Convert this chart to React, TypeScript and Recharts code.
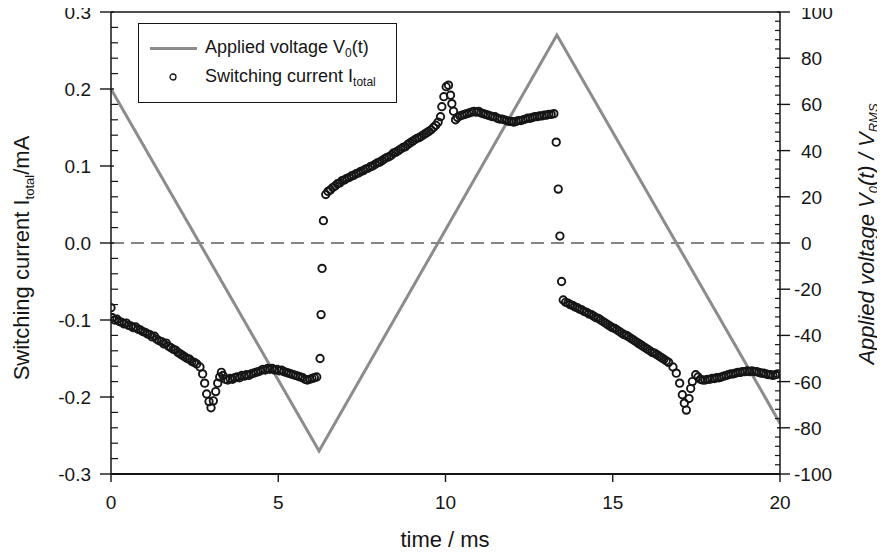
import React from "react";
import { ComposedChart, Line, Scatter, XAxis, YAxis, ReferenceLine } from "recharts";

const FONT = "'Liberation Sans', Arial, Helvetica, sans-serif";

// ---- tick labels ----
const timeTicks = [0, 5, 10, 15, 20];
const currentLabels = [-0.3, -0.2, -0.1, 0, 0.1, 0.2, 0.3];
const voltageLabels = [-100, -80, -60, -40, -20, 0, 20, 40, 60, 80, 100];

// ---- applied voltage (triangle), time in ms, value in V_RMS ----
const voltageTime = [0, 6.22, 13.33, 20];
const voltageValue = [66.7, -90, 90, -78];

// ---- switching current, [time ms, current mA] ----
const currentStart: [number, number][] = [[0.0, -0.084]];
const currentFallA: [number, number][] = [
  [0.04, -0.097], [0.11, -0.1], [0.18, -0.099], [0.25, -0.102], [0.32, -0.103], [0.39, -0.105], [0.46, -0.104],
  [0.53, -0.107], [0.6, -0.108], [0.67, -0.11], [0.74, -0.109], [0.81, -0.112], [0.88, -0.113], [0.95, -0.115],
  [1.02, -0.116], [1.09, -0.118], [1.16, -0.119], [1.23, -0.122], [1.3, -0.121], [1.37, -0.125], [1.44, -0.127],
  [1.51, -0.128], [1.58, -0.131], [1.65, -0.13], [1.72, -0.134], [1.79, -0.136], [1.86, -0.138], [1.93, -0.139],
  [2.0, -0.142], [2.07, -0.144], [2.14, -0.146], [2.21, -0.148], [2.28, -0.15], [2.35, -0.151], [2.42, -0.154],
  [2.49, -0.155], [2.56, -0.157],
];
const currentDipA: [number, number][] = [
  [2.66, -0.161], [2.74, -0.17], [2.8, -0.182], [2.86, -0.196], [2.93, -0.206], [2.99, -0.214],
  [3.06, -0.205], [3.13, -0.193], [3.19, -0.182], [3.25, -0.174], [3.3, -0.168],
];
const currentFlatA: [number, number][] = [
  [3.35, -0.172], [3.42, -0.177], [3.49, -0.178], [3.56, -0.176], [3.63, -0.177], [3.7, -0.175], [3.77, -0.174],
  [3.84, -0.175], [3.91, -0.172], [3.98, -0.173], [4.05, -0.171], [4.12, -0.172], [4.19, -0.17], [4.26, -0.169],
  [4.33, -0.168], [4.4, -0.167], [4.47, -0.166], [4.54, -0.164], [4.61, -0.165], [4.68, -0.163], [4.75, -0.164],
  [4.82, -0.163], [4.89, -0.165], [4.96, -0.164], [5.03, -0.166], [5.1, -0.165], [5.17, -0.167], [5.24, -0.168],
  [5.31, -0.169], [5.38, -0.17], [5.45, -0.171], [5.52, -0.172], [5.59, -0.173], [5.66, -0.174], [5.73, -0.175],
  [5.8, -0.177], [5.87, -0.178], [5.94, -0.177], [6.01, -0.176], [6.08, -0.175], [6.15, -0.174],
];
const currentRiseB: [number, number][] = [[6.25, -0.15], [6.28, -0.093], [6.31, -0.033], [6.35, 0.029]];
const currentRampB: [number, number][] = [
  [6.42, 0.063], [6.49, 0.067], [6.56, 0.069], [6.63, 0.072], [6.7, 0.074], [6.77, 0.077], [6.84, 0.078],
  [6.91, 0.081], [6.98, 0.082], [7.05, 0.084], [7.12, 0.085], [7.19, 0.087], [7.26, 0.088], [7.33, 0.09],
  [7.4, 0.091], [7.47, 0.093], [7.54, 0.094], [7.61, 0.096], [7.68, 0.097], [7.75, 0.099], [7.82, 0.1],
  [7.89, 0.102], [7.96, 0.104], [8.03, 0.105], [8.1, 0.107], [8.17, 0.109], [8.24, 0.111], [8.31, 0.112],
  [8.38, 0.114], [8.45, 0.117], [8.52, 0.118], [8.59, 0.12], [8.66, 0.122], [8.73, 0.124], [8.8, 0.125],
  [8.87, 0.128], [8.94, 0.13], [9.01, 0.132], [9.08, 0.134], [9.15, 0.136], [9.22, 0.137], [9.29, 0.139],
  [9.36, 0.141], [9.43, 0.143], [9.5, 0.145], [9.57, 0.147], [9.64, 0.15], [9.71, 0.153],
];
const currentPeakB: [number, number][] = [
  [9.78, 0.157], [9.85, 0.164], [9.89, 0.177], [9.95, 0.19], [10.02, 0.203],
  [10.09, 0.205], [10.15, 0.192], [10.19, 0.181], [10.24, 0.171], [10.3, 0.16],
];
const currentFlatB: [number, number][] = [
  [10.36, 0.163], [10.43, 0.165], [10.5, 0.166], [10.57, 0.167], [10.64, 0.168], [10.71, 0.169], [10.78, 0.17],
  [10.85, 0.171], [10.92, 0.17], [10.99, 0.171], [11.06, 0.169], [11.13, 0.168], [11.2, 0.167], [11.27, 0.166],
  [11.34, 0.165], [11.41, 0.164], [11.48, 0.164], [11.55, 0.162], [11.62, 0.161], [11.69, 0.161], [11.76, 0.16],
  [11.83, 0.159], [11.9, 0.158], [11.97, 0.158], [12.04, 0.157], [12.11, 0.158], [12.18, 0.159], [12.25, 0.159],
  [12.32, 0.16], [12.39, 0.161], [12.46, 0.162], [12.53, 0.162], [12.6, 0.163], [12.67, 0.164], [12.74, 0.164],
  [12.81, 0.165], [12.88, 0.165], [12.95, 0.166], [13.02, 0.166], [13.09, 0.167], [13.16, 0.167], [13.24, 0.168],
];
const currentDropC: [number, number][] = [[13.31, 0.131], [13.37, 0.07], [13.42, 0.009], [13.47, -0.05]];
const currentFallC: [number, number][] = [
  [13.52, -0.074], [13.59, -0.077], [13.66, -0.078], [13.73, -0.08], [13.8, -0.081], [13.87, -0.083],
  [13.94, -0.084], [14.01, -0.086], [14.08, -0.087], [14.15, -0.089], [14.22, -0.09], [14.29, -0.092],
  [14.36, -0.093], [14.43, -0.095], [14.5, -0.097], [14.57, -0.098], [14.64, -0.1], [14.71, -0.102],
  [14.78, -0.104], [14.85, -0.106], [14.92, -0.108], [14.99, -0.11], [15.06, -0.111], [15.13, -0.113],
  [15.2, -0.115], [15.27, -0.117], [15.34, -0.119], [15.41, -0.12], [15.48, -0.122], [15.55, -0.124],
  [15.62, -0.126], [15.69, -0.128], [15.76, -0.13], [15.83, -0.132], [15.9, -0.134], [15.97, -0.136],
  [16.04, -0.138], [16.11, -0.14], [16.18, -0.142], [16.25, -0.143], [16.32, -0.145], [16.39, -0.147],
  [16.46, -0.149], [16.53, -0.151], [16.6, -0.153], [16.67, -0.155],
];
const currentDipC: [number, number][] = [
  [16.8, -0.161], [16.9, -0.169], [17.0, -0.182], [17.08, -0.197], [17.14, -0.208],
  [17.2, -0.217], [17.28, -0.202], [17.33, -0.189], [17.38, -0.18], [17.48, -0.171],
];
const currentFlatC: [number, number][] = [
  [17.55, -0.174], [17.62, -0.177], [17.69, -0.178], [17.76, -0.178], [17.83, -0.177], [17.9, -0.177],
  [17.97, -0.176], [18.04, -0.176], [18.11, -0.175], [18.18, -0.175], [18.25, -0.174], [18.32, -0.173],
  [18.39, -0.172], [18.46, -0.171], [18.53, -0.17], [18.6, -0.17], [18.67, -0.169], [18.74, -0.168],
  [18.81, -0.168], [18.88, -0.167], [18.95, -0.167], [19.02, -0.166], [19.09, -0.167], [19.16, -0.166],
  [19.23, -0.167], [19.3, -0.167], [19.37, -0.168], [19.44, -0.169], [19.51, -0.169], [19.58, -0.17],
  [19.65, -0.171], [19.72, -0.171], [19.79, -0.172], [19.86, -0.171], [19.93, -0.17],
];

const voltageData = voltageTime.map((t, k) => ({ t, v: voltageValue[k] }));
const currentData = [
  ...currentStart, ...currentFallA, ...currentDipA, ...currentFlatA, ...currentRiseB, ...currentRampB,
  ...currentPeakB, ...currentFlatB, ...currentDropC, ...currentFallC, ...currentDipC, ...currentFlatC,
].map(([t, i]) => ({ t, i }));

// tick positions (major + minor)
const leftTickPos = Array.from({ length: 31 }, (_, k) => Math.round((-0.3 + k * 0.02) * 1000) / 1000);
const rightTickPos = Array.from({ length: 51 }, (_, k) => -100 + 4 * k);

const INK = "#151515";
const TICK_FS = 19;

function LeftTick(props: any) {
  const { x, y, payload } = props;
  const v = payload.value as number;
  const major = currentLabels.some((l) => Math.abs(l - v) < 1e-6);
  if (!major) return <line x1={x} x2={x + 7} y1={y} y2={y} stroke={INK} strokeWidth={1.2} />;
  return (
    <g>
      <line x1={x - 11} x2={x + 3} y1={y} y2={y} stroke={INK} strokeWidth={1.4} />
      <text x={x - 20} y={y + 7} textAnchor="end" fontSize={TICK_FS} fontFamily={FONT} fill={INK}>
        {v.toFixed(1)}
      </text>
    </g>
  );
}

function RightTick(props: any) {
  const { x, y, payload } = props;
  const v = payload.value as number;
  const major = voltageLabels.includes(v);
  if (!major) return <line x1={x - 5} x2={x} y1={y} y2={y} stroke={INK} strokeWidth={1.2} />;
  return (
    <g>
      <line x1={x - 3} x2={x + 10} y1={y} y2={y} stroke={INK} strokeWidth={1.4} />
      <text x={v < 0 ? x + 14 : x + 21} y={y + 7} textAnchor="start" fontSize={TICK_FS} fontFamily={FONT} fill={INK}>
        {v}
      </text>
    </g>
  );
}

function BottomTick(props: any) {
  const { x, y, payload } = props;
  return (
    <g>
      <line x1={x} x2={x} y1={y} y2={y + 8} stroke={INK} strokeWidth={1.4} />
      <text x={x} y={y + 35} textAnchor="middle" fontSize={TICK_FS} fontFamily={FONT} fill={INK}>
        {payload.value}
      </text>
    </g>
  );
}

function LeftTitle() {
  const cx = 29;
  const cy = 258;
  return (
    <text x={cx} y={cy} transform={`rotate(-90, ${cx}, ${cy})`} textAnchor="middle" fontSize={22} fontFamily={FONT} fill={INK}>
      Switching current I
      <tspan fontSize={13} dy={5}>total</tspan>
      <tspan dy={-5}>/mA</tspan>
    </text>
  );
}

function RightTitle() {
  const cx = 874;
  const cy = 234;
  return (
    <text x={cx} y={cy} transform={`rotate(-90, ${cx}, ${cy})`} textAnchor="middle" fontSize={22} fontStyle="italic" fontFamily={FONT} fill={INK}>
      Applied voltage V
      <tspan fontSize={13} dy={4}>0</tspan>
      <tspan dy={-4}>(t) / V</tspan>
      <tspan fontSize={13} dy={4}>RMS</tspan>
    </text>
  );
}

function BottomTitle() {
  return (
    <text x={445} y={547} textAnchor="middle" fontSize={22} fontFamily={FONT} fill={INK}>
      time / ms
    </text>
  );
}

const ringShape = (props: any) => (
  <circle cx={props.cx} cy={props.cy} r={3.7} fill="none" stroke={INK} strokeWidth={1.9} />
);

export default function App() {
  return (
    <div style={{ position: "relative", width: 885, height: 556, marginTop: -8, marginLeft: -8, fontFamily: FONT }}>
      <style>{"html,body{overflow:hidden}"}</style>
      <ComposedChart width={885} height={556} margin={{ top: 12, right: 0, bottom: 0, left: 0 }}>
        <XAxis
          dataKey="t"
          type="number"
          domain={[0, 20]}
          ticks={timeTicks}
          interval={0}
          allowDataOverflow
          height={82}
          tickSize={0}
          tickMargin={0}
          tickLine={false}
          tick={<BottomTick />}
          axisLine={{ stroke: INK, strokeWidth: 1.8 }}
          label={<BottomTitle />}
        />
        <YAxis
          yAxisId="left"
          orientation="left"
          type="number"
          domain={[-0.3, 0.3]}
          ticks={leftTickPos}
          interval={0}
          allowDataOverflow
          width={111}
          tickSize={0}
          tickMargin={0}
          tickLine={false}
          tick={<LeftTick />}
          axisLine={{ stroke: INK, strokeWidth: 1.5 }}
          label={<LeftTitle />}
        />
        <YAxis
          yAxisId="right"
          orientation="right"
          type="number"
          domain={[-100, 100]}
          ticks={rightTickPos}
          interval={0}
          allowDataOverflow
          width={105}
          tickSize={0}
          tickMargin={0}
          tickLine={false}
          tick={<RightTick />}
          axisLine={{ stroke: INK, strokeWidth: 1.5 }}
          label={<RightTitle />}
        />
        <ReferenceLine yAxisId="left" y={0.3} stroke={INK} strokeWidth={1.5} />
        <ReferenceLine yAxisId="left" y={0} stroke="#5e5e5e" strokeWidth={1.5} strokeDasharray="13 7" />
        <Line
          yAxisId="right"
          data={voltageData}
          dataKey="v"
          type="linear"
          stroke="#8c8c8c"
          strokeWidth={3}
          dot={false}
          isAnimationActive={false}
        />
        <Scatter
          yAxisId="left"
          data={currentData}
          dataKey="i"
          shape={ringShape}
          isAnimationActive={false}
        />
      </ComposedChart>
      <div
        style={{
          position: "absolute",
          left: 138,
          top: 23,
          width: 259,
          height: 80,
          border: `1.5px solid ${INK}`,
          boxSizing: "border-box",
          fontSize: 18,
          color: INK,
        }}
      >
        <div style={{ position: "absolute", left: 11, top: 23, width: 47, height: 3, background: "#8c8c8c" }} />
        <div style={{ position: "absolute", left: 66, top: 13, lineHeight: "20px", whiteSpace: "nowrap" }}>
          Applied voltage V<span style={{ fontSize: 12, position: "relative", top: 4 }}>0</span>(t)
        </div>
        <svg style={{ position: "absolute", left: 27, top: 46 }} width={14} height={14}>
          <circle cx={7} cy={7} r={3} fill="none" stroke={INK} strokeWidth={1.3} />
        </svg>
        <div style={{ position: "absolute", left: 66, top: 42, lineHeight: "20px", whiteSpace: "nowrap" }}>
          Switching current I<span style={{ fontSize: 12, position: "relative", top: 4 }}>total</span>
        </div>
      </div>
    </div>
  );
}
